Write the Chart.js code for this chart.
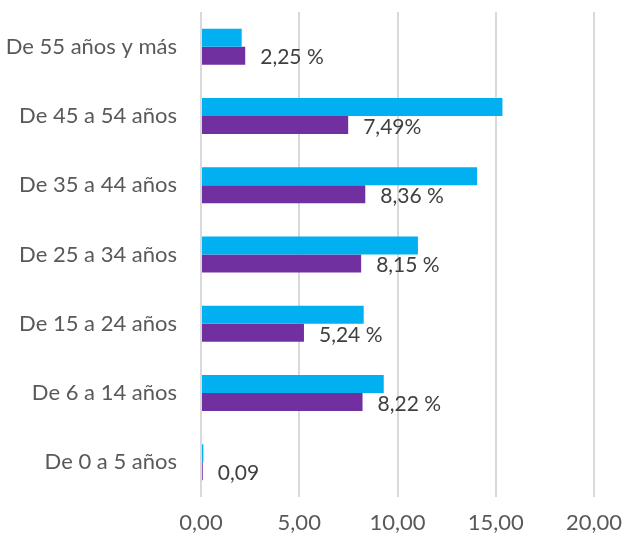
<!DOCTYPE html>
<html>
<head>
<meta charset="utf-8">
<script src="https://cdn.jsdelivr.net/npm/chart.js@4"></script>
<style>
  html, body { margin: 0; padding: 0; background: #fff; }
  #wrap { width: 623px; height: 540px; }
</style>
</head>
<body>
<div id="wrap"><canvas id="ageChart" width="623" height="540"></canvas></div>
<script>
// datos
const categories = [
  "De 55 años y más",
  "De 45 a 54 años",
  "De 35 a 44 años",
  "De 25 a 34 años",
  "De 15 a 24 años",
  "De 6 a 14 años",
  "De 0 a 5 años",
];
const serieCyan = [2.07, 15.34, 14.05, 11.04, 8.28, 9.3, 0.12];
const seriePurple = [2.25, 7.49, 8.36, 8.15, 5.24, 8.22, 0.09];
const purpleLabels = ["2,25 %", "7,49%", "8,36 %", "8,15 %", "5,24 %", "8,22 %", "0,09"];
const xTicks = [0, 5, 10, 15, 20];

const fontFamily = "Lato, 'Open Sans', sans-serif";

// etiquetas al final de las barras moradas
const barLabels = {
  id: "barLabels",
  afterDatasetsDraw(chart) {
    const ctx = chart.ctx;
    const meta = chart.getDatasetMeta(1);
    const xs = chart.scales.x;
    ctx.save();
    ctx.font = "21px " + fontFamily;
    ctx.fillStyle = "#404040";
    ctx.textAlign = "left";
    ctx.textBaseline = "middle";
    meta.data.forEach((bar, i) => {
      const x = xs.getPixelForValue(seriePurple[i]) + 15;
      ctx.fillText(purpleLabels[i], x, bar.y + 2);
    });
    ctx.restore();
  },
};

// sin relleno extra por las etiquetas
function noPad(s) {
  s.paddingLeft = 0;
  s.paddingRight = 0;
  s.paddingTop = 0;
  s.paddingBottom = 0;
}

const ctx = document.getElementById("ageChart").getContext("2d");
new Chart(ctx, {
  type: "bar",
  data: {
    labels: categories,
    datasets: [
      {
        data: serieCyan,
        backgroundColor: "#00b0f0",
        borderWidth: 0,
      },
      {
        data: seriePurple,
        backgroundColor: "#7030a0",
        borderWidth: 0,
      },
    ],
  },
  options: {
    indexAxis: "y",
    responsive: false,
    animation: false,
    categoryPercentage: 0.52,
    barPercentage: 1,
    layout: { padding: { top: 12, right: 29, left: 0, bottom: 0 } },
    plugins: {
      legend: { display: false },
      tooltip: { enabled: false },
    },
    scales: {
      x: {
        min: 0,
        max: 20,
        afterFit: (s) => { s.height = 43; noPad(s); },
        afterBuildTicks: (s) => { s.ticks = xTicks.map((v) => ({ value: v })); },
        border: { display: false },
        grid: { color: "#d9d9d9", lineWidth: 2, drawTicks: false },
        ticks: {
          padding: 13,
          color: "#595959",
          font: { size: 22, family: fontFamily },
          callback: (v) => v.toFixed(2).replace(".", ","),
        },
      },
      y: {
        afterFit: (s) => { s.width = 201; noPad(s); },
        border: { display: false },
        grid: { display: false },
        ticks: {
          padding: 16,
          color: "#595959",
          font: { size: 22, family: fontFamily },
        },
      },
    },
  },
  plugins: [barLabels],
});
</script>
</body>
</html>
